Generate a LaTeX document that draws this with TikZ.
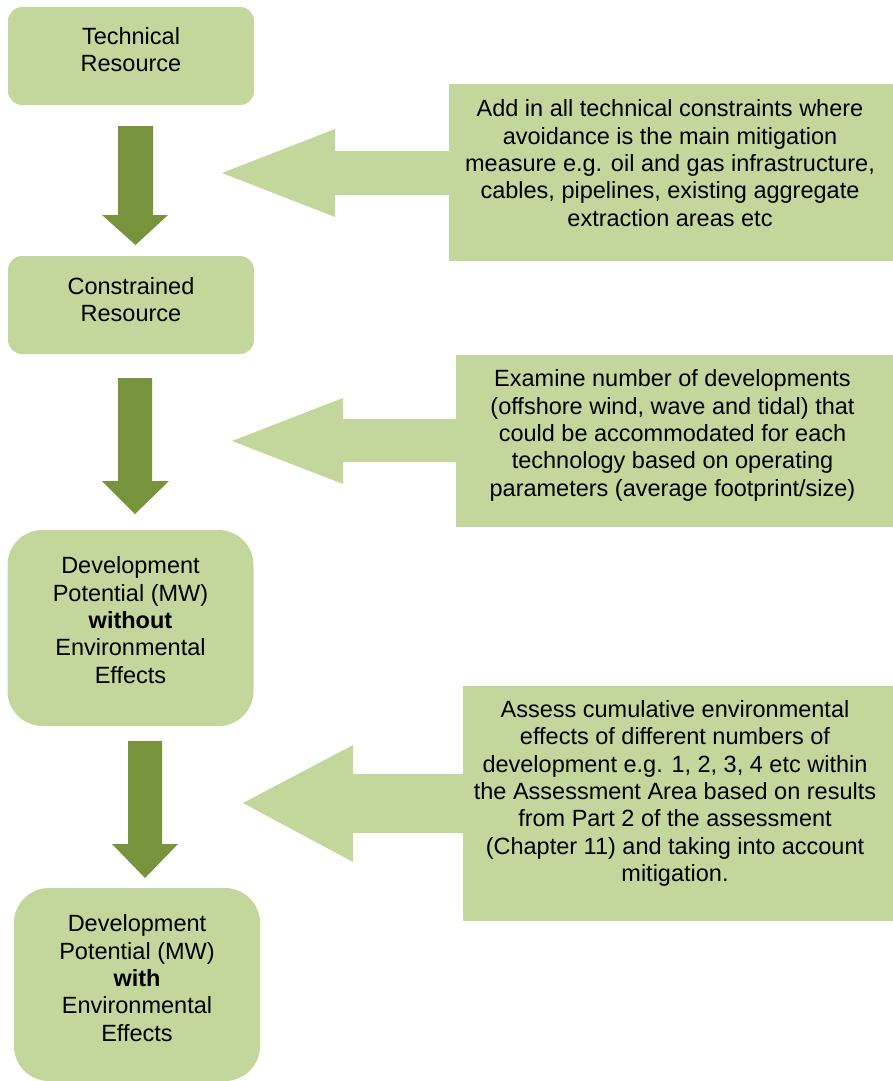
\documentclass[tikz,border=0pt]{standalone}
\usepackage{fontspec}
\setmainfont{Liberation Sans}
\definecolor{lightg}{HTML}{C3D69B}
\definecolor{darkg}{HTML}{77933C}
\begin{document}
\begin{tikzpicture}[x=1pt,y=-1pt,
  smallbox/.style={fill=lightg, draw=none, rounded corners=14pt, inner sep=0pt, minimum width=246pt, minimum height=98pt},
  bigbox/.style={fill=lightg, draw=none, rounded corners=35pt, inner sep=0pt, minimum width=246pt, minimum height=196pt},
  notebox/.style={fill=lightg, draw=none, inner sep=0pt},
  txt/.style={align=center, font=\fontsize{23.5}{27.3}\selectfont, inner sep=0pt},
  downarrow/.style={fill=darkg},
  leftarrow/.style={fill=lightg}]
\useasboundingbox (0,0) rectangle (893,1081);

% left column boxes
\node[smallbox] (b1) at (131,56) {};
\node[smallbox] (b2) at (131,305) {};
\node[bigbox] (b3) at (130.5,628) {};
\node[bigbox, minimum height=193pt] (b4) at (137,984.5) {};

\node[txt] (t1) at (131,49.5) {Technical\\Resource};
\node[txt] (t2) at (131,299.5) {Constrained\\Resource};
\node[txt] (t3) at (130.5,620) {Development\\Potential (MW)\\\textbf{without}\\Environmental\\Effects};
\node[txt] (t4) at (137,978) {Development\\Potential (MW)\\\textbf{with}\\Environmental\\Effects};

% right note boxes
\node[notebox, minimum width=444pt, minimum height=177pt] (n1) at (671,172.5) {};
\node[notebox, minimum width=437pt, minimum height=172pt] (n2) at (674.5,441) {};
\node[notebox, minimum width=430pt, minimum height=235pt] (n3) at (678,803.5) {};

\node[txt] (nt1) at (670,163) {Add in all technical constraints where\\avoidance is the main mitigation\\measure e.g. oil and gas infrastructure,\\cables, pipelines, existing aggregate\\extraction areas etc};
\node[txt] (nt2) at (672.5,435.5) {Examine number of developments\\(offshore wind, wave and tidal) that\\could be accommodated for each\\technology based on operating\\parameters (average footprint/size)};
\node[txt] (nt3) at (675,793.5) {Assess cumulative environmental\\effects of different numbers of\\development e.g. 1, 2, 3, 4 etc within\\the Assessment Area based on results\\from Part 2 of the assessment\\(Chapter 11) and taking into account\\mitigation.};

% down block arrows
\fill[downarrow] (118,126) -- (153,126) -- (153,215) -- (168,215) -- (135.5,245) -- (102,215) -- (118,215) -- cycle;
\fill[downarrow] (118,378) -- (152,378) -- (152,481) -- (169,481) -- (135,514) -- (102,481) -- (118,481) -- cycle;
\fill[downarrow] (128,741) -- (162,741) -- (162,844) -- (178,844) -- (145,878) -- (112,844) -- (128,844) -- cycle;

% left block arrows joined to the notes
\fill[leftarrow] (n1.west |- 0,151) -- (335,151) -- (335,129) -- (222,173) -- (335,217) -- (335,195) -- (n1.west |- 0,195) -- cycle;
\fill[leftarrow] (n2.west |- 0,419) -- (343,419) -- (343,398) -- (232,441) -- (343,484) -- (343,462) -- (n2.west |- 0,462) -- cycle;
\fill[leftarrow] (n3.west |- 0,774) -- (353,774) -- (353,745) -- (243,803) -- (353,862) -- (353,833) -- (n3.west |- 0,833) -- cycle;
\end{tikzpicture}
\end{document}
